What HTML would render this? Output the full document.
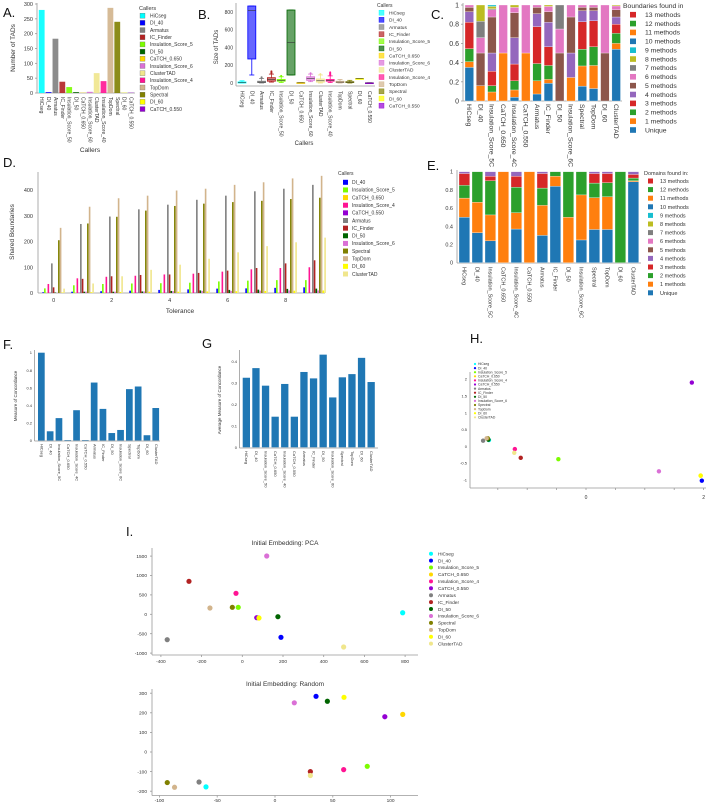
<!DOCTYPE html>
<html><head><meta charset="utf-8"><style>
html,body{margin:0;padding:0;background:#fff;}
svg{display:block;font-family:"Liberation Sans",sans-serif;}
</style></head><body>
<svg id="fig" width="708" height="803" viewBox="0 0 708 803" xmlns="http://www.w3.org/2000/svg"></svg>
<script>
// ---------- DATA ----------
const callerColor = {"HiCseg":"#00ffff","DI_40":"#0000ff","Armatus":"#808080","IC_Finder":"#b22222","Insulation_Score_5":"#7cfc00","DI_50":"#006400","CaTCH_0.650":"#ffd700","Insulation_Score_6":"#da70d6","ClusterTAD":"#f0e68c","Insulation_Score_4":"#ff1493","TopDom":"#d2b48c","Spectral":"#808000","DI_60":"#ffff00","CaTCH_0.550":"#9400d3"};
const aCats = ["HiCseg","DI_40","Armatus","IC_Finder","Insulation_Score_5","DI_50","CaTCH_0.650","Insulation_Score_6","ClusterTAD","Insulation_Score_4","TopDom","Spectral","DI_60","CaTCH_0.550"];
const aLabels = ["HiCseg","DI_40","Armatus","IC_Finder","Insulation_Score_50","DI_50","CaTCH_0.650","Insulation_Score_60","ClusterTAD","Insulation_Score_40","TopDom","Spectral","DI_60","CaTCH_0.550"];
const aVals = [280,3,183,38,20,3,1,4,67,40,287,240,1,1];
const aTicks = [0,50,100,150,200,250,300];
// box stats: [whislo,q1,med,q3,whishi]
const bStats = [[0,0,5,12,25],[90,270,815,865,865],[0,5,10,20,50],[10,20,40,60,100],[5,20,30,40,70],[90,90,455,820,820],[0,0,2,4,5],[15,30,50,70,100],[0,10,25,45,90],[5,20,30,40,80],[0,5,10,20,40],[0,5,10,15,30],[50,50,50,50,50],[0,0,1,2,3]];
const bFliers = [[],[],[55,65],[110,120,130],[80],[],[],[110],[100],[90,100,110,120],[],[],[],[]];
const bTicks = [0,200,400,600,800];
const cCats = ["HiCseg","DI_40","Insulation_Score_5C","CaTCH_0.650","Insulation_Score_4C","CaTCH_0.550","Armatus","IC_Finder","DI_50","Insulation_Score_6C","Spectral","TopDom","DI_60","ClusterTAD"];
const cSegs = [[0.35,0.06,0.135,0.275,0.11,0.045,0.025],[0,0.16,0,0,0,0.34,0.16,0.17,0.17],[0,0.094,0.066,0.15,0.19,0.375,0.075,0.01,0.025,0.015],[0,0.5,0,0,0,0,0.5],[0.04,0.075,0.095,0.175,0.275,0.26,0.055,0,0.025],[0,0.5,0,0,0,0,0.5],[0.073,0.137,0.18,0.385,0.135,0.065,0.025],[0.185,0.04,0.145,0.195,0.255,0.11,0.055,0,0.015],[0,0,0,0,0,0.5,0.25,0.25],[0,0.245,0,0,0.255,0.375,0.125],[0.155,0.21,0.175,0.285,0.115,0.035,0.025],[0.13,0.24,0.195,0.27,0.105,0.035,0.025],[0,0,0,0,0,0.5,0.5],[0.54,0.06,0.105,0.095,0.075,0.075,0.04,0,0.01]];
const eSegs = [[0.5,0.21,0.14,0.13,0.02],[0.33,0.335,0.335],[0.24,0.285,0.375,0.05,0.05],[0,1],[0.37,0.18,0.28,0.12,0.05],[0,1],[0.3,0.33,0.19,0.16,0.02],[0.84,0.11,0.05],[0,0.5,0.5],[0.25,0.495,0.255],[0.365,0.35,0.16,0.105,0.02],[0.365,0.36,0.155,0.1,0.02],[0,0,1],[0.89,0.01,0.03,0.04,0.03]];
const fracTicks = [0,0.2,0.4,0.6,0.8,1];
const methodLabels = ["13 methods","12 methods","11 methods","10 methods","9 methods","8 methods","7 methods","6 methods","5 methods","4 methods","3 methods","2 methods","1 methods","Unique"];
const dCallers = ["DI_40","Insulation_Score_5","CaTCH_0.650","Insulation_Score_4","CaTCH_0.550","Armatus","IC_Finder","DI_50","Insulation_Score_6","Spectral","TopDom","DI_60","ClusterTAD"];
const dVals = [[3,5,7,9,12,14,17,18,20,22],[18,30,35,37,38,40,45,48,50,50],[1,1,1,1,1,1,1,1,1,1],[35,57,63,67,72,75,83,92,97,100],[1,1,1,1,1,1,1,1,1,1],[115,268,297,325,343,362,378,395,405,420],[22,55,65,70,72,78,87,97,115,127],[2,5,5,6,8,10,12,13,16,17],[1,5,5,6,7,8,8,9,10,10],[205,270,296,320,338,347,353,358,365,370],[253,335,368,378,398,405,420,430,445,455],[2,3,4,5,5,6,7,8,9,10],[17,37,65,90,110,133,158,182,197,215]];
const dTols = [0,1,2,3,4,5,6,7,8,9];
const dTicks = [0,100,200,300,400];
const fVals = [1.0,0.105,0.255,0.005,0.345,0.005,0.66,0.36,0.085,0.12,0.585,0.615,0.06,0.37];
const gCats = ["HiCseg","DI_40","Insulation_Score_50","CaTCH_0.650","Insulation_Score_40","CaTCH_0.550","Armatus","IC_Finder","DI_50","Insulation_Score_60","Spectral","TopDom","DI_60","ClusterTAD"];
const gVals = [0.325,0.37,0.288,0.143,0.296,0.143,0.352,0.322,0.433,0.233,0.327,0.342,0.418,0.305];
const gTicks = [0,0.1,0.2,0.3,0.4];
const hCats = ["HiCseg","DI_40","Insulation_Score_5","CaTCH_0.650","Insulation_Score_4","CaTCH_0.550","Armatus","IC_Finder","DI_50","Insulation_Score_6","Spectral","TopDom","DI_60","ClusterTAD"];
const hX = [-1.65,1.97,-0.47,1.95,-1.21,1.80,-1.75,-1.11,-1.66,1.24,-1.67,-1.69,1.95,-1.22];
const hY = [0.19,-1.02,-0.38,-0.87,-0.08,1.9,0.17,-0.34,0.2,-0.74,0.24,0.24,-0.87,-0.19];
const hXTicks = [-1.5,-1,-0.5,0,0.5,1,1.5,2];
const hYTicks = [-1,-0.5,0,0.5,1,1.5,2];
const pcaX = [788,190,-20,80,-31,71,-369,-262,175,120,-49,-159,82,498];
const pcaY = [40,-593,180,-90,541,-87,-654,850,-62,1503,180,162,-95,-843];
const pcaXTicks = [-400,-200,0,200,400,600,800];
const pcaYTicks = [-1000,-500,0,500,1000,1500];
const rndX = [-59.7,35.5,79.8,110.5,59.4,95,-65.7,30.6,45.3,16.7,-93.2,-86.9,59.7,30.6];
const rndY = [-178,284,-73,192,-90,180,-153,-100,259,251,-156,-180,279,-120];
const rndXTicks = [-100,-50,0,50,100];
const rndYTicks = [-200,-100,0,100,200,300];
const tab10 = ['#1f77b4','#ff7f0e','#2ca02c','#d62728','#9467bd','#8c564b','#e377c2','#7f7f7f','#bcbd22','#17becf'];

// ---------- HELPERS ----------
const svg = document.getElementById('fig');
const NS = 'http://www.w3.org/2000/svg';
function mk(tag, attrs, name, parent) {
  const el = document.createElementNS(NS, tag);
  for (const k in attrs) el.setAttribute(k, attrs[k]);
  
  
  (parent || svg).appendChild(el);
  return el;
}
function txt(x, y, s, size, name, opts) {
  opts = opts || {};
  const a = {x: x, y: y, 'font-size': size, fill: opts.fill || '#333', 'text-anchor': opts.anchor || 'start'};
  if (opts.rot !== undefined) a.transform = 'rotate(' + opts.rot + ' ' + x + ' ' + y + ')';
  if (opts.base) a['dominant-baseline'] = opts.base;
  const t = mk('text', a, name);
  t.textContent = s;
  return t;
}
function line(x1, y1, x2, y2, name, col, w) {
  return mk('line', {x1: x1, y1: y1, x2: x2, y2: y2, stroke: col || '#999', 'stroke-width': w || 0.8}, name);
}
function panelLabel(x, y, s) { txt(x, y, s, 13, 'panel-label-' + s.replace('.', '').toLowerCase(), {fill: '#111'}); }

// ---------- PANEL A ----------
panelLabel(3, 17, 'A.');
const aY = v => 93 - v * (89 / 300);
const aX = i => 41.7 + i * 6.87;
line(37, 3, 37, 93, 'a-y-axis');
line(37, 93, 135, 93, 'a-x-axis');
aTicks.forEach(t => { txt(33, aY(t) + 2, String(t), 5.5, 'a-y-tick', {anchor: 'end'}); line(35, aY(t), 37, aY(t), 'a-y-tick-mark'); });
aVals.forEach((v, i) => { mk('rect', {x: aX(i) - 2.9, y: aY(v), width: 5.8, height: 93 - aY(v), fill: callerColor[aCats[i]], 'fill-opacity': 0.9}, 'a-bar-' + aCats[i].toLowerCase()); });
aLabels.forEach((s, i) => txt(aX(i) - 1.5, 97, s, 5, 'a-x-label', {rot: 90}));
txt(15, 48, 'Number of TADs', 6.5, 'a-y-axis-title', {rot: -90, anchor: 'middle'});
txt(90, 152, 'Callers', 6.5, 'a-x-axis-title', {anchor: 'middle'});
txt(139, 10, 'Callers', 5.5, 'a-legend-title');
aCats.forEach((c, i) => { const y = 15.7 + i * 7.18; mk('rect', {x: 140, y: y - 2.5, width: 5, height: 5, fill: callerColor[c], stroke: '#666', 'stroke-width': 0.3}, 'a-legend-swatch'); txt(150, y + 1.8, c, 5, 'a-legend-entry'); });

// ---------- PANEL B ----------
panelLabel(198, 19, 'B.');
const bY = v => 83 - v * (17.8 / 200);
const bX = i => 242 + i * 9.8;
line(236, 3, 236, 86, 'b-y-axis');
line(236, 86, 375, 86, 'b-x-axis');
bTicks.forEach(t => { txt(233, bY(t) + 2, String(t), 5, 'b-y-tick', {anchor: 'end'}); });
bStats.forEach((s, i) => {
  const col = callerColor[aCats[i]], x = bX(i);
  line(x, bY(s[0]), x, bY(s[1]), 'b-whisker-low', col, 0.8);
  line(x, bY(s[3]), x, bY(s[4]), 'b-whisker-high', col, 0.8);
  line(x - 2.5, bY(s[0]), x + 2.5, bY(s[0]), 'b-cap-low', col, 0.8);
  line(x - 2.5, bY(s[4]), x + 2.5, bY(s[4]), 'b-cap-high', col, 0.8);
  mk('rect', {x: x - 4, y: bY(s[3]), width: 8, height: Math.max(0.8, bY(s[1]) - bY(s[3])), fill: col, 'fill-opacity': 0.6, stroke: col, 'stroke-width': 0.8}, 'b-box-' + aCats[i].toLowerCase());
  line(x - 4, bY(s[2]), x + 4, bY(s[2]), 'b-median', '#333', 0.6);
  bFliers[i].forEach(f => mk('circle', {cx: x, cy: bY(f), r: 1, fill: col}, 'b-flier'));
});
aLabels.forEach((s, i) => txt(bX(i) - 1.5, 91, s, 5, 'b-x-label', {rot: 90}));
txt(218, 47, 'Size of TADs', 6, 'b-y-axis-title', {rot: -90, anchor: 'middle'});
txt(304, 145, 'Callers', 6, 'b-x-axis-title', {anchor: 'middle'});
txt(377, 7, 'Callers', 5, 'b-legend-title');
aCats.forEach((c, i) => { const y = 12.7 + i * 7.15; mk('rect', {x: 379, y: y - 2.5, width: 5, height: 5, fill: callerColor[c], 'fill-opacity': 0.7, stroke: callerColor[c], 'stroke-width': 0.4}, 'b-legend-swatch'); txt(389, y + 1.8, c, 4.8, 'b-legend-entry'); });

// ---------- PANEL C ----------
panelLabel(431, 19, 'C.');
const cY = v => 101 - v * 96;
const cX = i => 465 + i * 11.3;
line(463, 3, 463, 101, 'c-y-axis');
line(463, 101, 622, 101, 'c-x-axis');
fracTicks.forEach(t => { txt(459, cY(t) + 2.5, String(t), 7, 'c-y-tick', {anchor: 'end'}); line(461, cY(t), 463, cY(t), 'c-y-tick-mark'); });
cSegs.forEach((segs, i) => { let acc = 0; segs.forEach((h, k) => { if (h > 0) { mk('rect', {x: cX(i), y: cY(acc + h), width: 8.6, height: h * 96, fill: tab10[k], stroke: '#fff', 'stroke-width': 0.3}, 'c-segment-' + cCats[i].toLowerCase()); } acc += h; }); });
cCats.forEach((s, i) => txt(cX(i) + 2, 104, s, 6.8, 'c-x-label', {rot: 90}));
txt(623, 8, 'Boundaries found in', 6.8, 'c-legend-title');
methodLabels.forEach((s, i) => { const y = 14.7 + i * 8.87; mk('rect', {x: 630, y: y - 2.8, width: 6, height: 5.6, fill: tab10[(13 - i) % 10]}, 'c-legend-swatch'); txt(645, y + 2.3, s, 6.8, 'c-legend-entry'); });

// ---------- PANEL D ----------
panelLabel(3, 167, 'D.');
const dY = v => 293 - v * 0.2575;
const dX = (k, j) => 42.3 + k * 29 + j * 1.75;
line(38, 172, 38, 293, 'd-y-axis');
line(38, 293, 325, 293, 'd-x-axis');
dTicks.forEach(t => { txt(33, dY(t) + 2, String(t), 5.5, 'd-y-tick', {anchor: 'end'}); });
dTols.forEach(k => { dCallers.forEach((c, j) => { const v = dVals[j][k]; mk('rect', {x: dX(k, j), y: dY(v), width: 1.6, height: 293 - dY(v), fill: callerColor[c]}, 'd-bar-' + c.toLowerCase()); }); });
[0, 2, 4, 6, 8].forEach(t => txt(53.6 + 29 * t, 302, String(t), 5.5, 'd-x-tick', {anchor: 'middle'}));
txt(14, 232, 'Shared Boundaries', 6.5, 'd-y-axis-title', {rot: -90, anchor: 'middle'});
txt(180, 313, 'Tolerance', 6.5, 'd-x-axis-title', {anchor: 'middle'});
txt(338, 175, 'Callers', 5, 'd-legend-title');
dCallers.forEach((c, i) => { const y = 182.3 + i * 7.64; mk('rect', {x: 343, y: y - 2.5, width: 5, height: 5, fill: callerColor[c]}, 'd-legend-swatch'); txt(352, y + 1.8, c, 5, 'd-legend-entry'); });

// ---------- PANEL E ----------
panelLabel(427, 170, 'E.');
const eY = v => 262.7 - v * 91;
const eX = i => 459 + i * 13;
line(457, 170, 457, 263, 'e-y-axis');
line(457, 263, 641, 263, 'e-x-axis');
fracTicks.forEach(t => { txt(453, eY(t) + 2, String(t), 5.5, 'e-y-tick', {anchor: 'end'}); });
eSegs.forEach((segs, i) => { let acc = 0; segs.forEach((h, k) => { if (h > 0) { mk('rect', {x: eX(i), y: eY(acc + h), width: 10.7, height: h * 91, fill: tab10[k], stroke: '#fff', 'stroke-width': 0.3}, 'e-segment-' + cCats[i].toLowerCase()); } acc += h; }); });
cCats.forEach((s, i) => txt(eX(i) + 3.5, 267, s, 5.5, 'e-x-label', {rot: 90}));
txt(644, 175, 'Domains found in:', 5.5, 'e-legend-title');
methodLabels.forEach((s, i) => { const y = 181 + i * 8.6; mk('rect', {x: 648, y: y - 2.5, width: 5, height: 5, fill: tab10[(13 - i) % 10]}, 'e-legend-swatch'); txt(660, y + 2, s, 5.5, 'e-legend-entry'); });

// ---------- PANEL F ----------
panelLabel(3, 349, 'F.');
const fY = v => 440.5 - v * 87.8;
const fX = i => 38 + i * 8.8;
line(34.5, 350, 34.5, 441, 'f-y-axis');
line(34.5, 441, 160, 441, 'f-x-axis');
fracTicks.forEach(t => { txt(32, fY(t) + 1.5, String(t), 4, 'f-y-tick', {anchor: 'end'}); });
fVals.forEach((v, i) => mk('rect', {x: fX(i), y: fY(v), width: 6.7, height: Math.max(0.5, 440.5 - fY(v)), fill: '#1f77b4'}, 'f-bar-' + cCats[i].toLowerCase()));
cCats.forEach((s, i) => txt(fX(i) + 2.5, 444, s, 4, 'f-x-label', {rot: 90}));
txt(17, 396, 'Measure of Concordance', 4.5, 'f-y-axis-title', {rot: -90, anchor: 'middle'});

// ---------- PANEL G ----------
panelLabel(202, 348, 'G');
const gY = v => 447.3 - v * 214;
const gX = i => 242.7 + i * 9.6;
line(239.5, 350, 239.5, 448, 'g-y-axis');
line(239.5, 448, 378, 448, 'g-x-axis');
gTicks.forEach(t => { txt(237, gY(t) + 1.5, String(t), 4, 'g-y-tick', {anchor: 'end'}); });
gVals.forEach((v, i) => mk('rect', {x: gX(i), y: gY(v), width: 7.3, height: 447.3 - gY(v), fill: '#1f77b4'}, 'g-bar-' + gCats[i].toLowerCase()));
gCats.forEach((s, i) => txt(gX(i) + 2.5, 451, s, 4, 'g-x-label', {rot: 90}));
txt(221, 400, 'Average Measure of Concordance', 4.5, 'g-y-axis-title', {rot: -90, anchor: 'middle'});

// ---------- PANEL H ----------
panelLabel(470, 343, 'H.');
const hPX = v => 586 + v * 58.8;
const hPY = v => 446.4 - v * 33.6;
line(470, 372, 470, 488, 'h-y-axis');
line(470, 488, 706, 488, 'h-x-axis');
hYTicks.forEach(t => { txt(467, hPY(t) + 1.5, String(t), 4, 'h-y-tick', {anchor: 'end'}); });
hXTicks.forEach(t => { line(hPX(t), 488, hPX(t), 490, 'h-x-tick-mark'); });
txt(hPX(0), 499, '0', 5, 'h-x-tick', {anchor: 'middle'});
txt(hPX(2), 499, '2', 5, 'h-x-tick', {anchor: 'middle'});
hCats.forEach((c, i) => mk('circle', {cx: hPX(hX[i]), cy: hPY(hY[i]), r: 2.2, fill: callerColor[c]}, 'h-point-' + c.toLowerCase()));
hCats.forEach((c, i) => { const y = 364 + i * 4.1; mk('circle', {cx: 475, cy: y, r: 1.1, fill: callerColor[c]}, 'h-legend-marker'); txt(478, y + 1.2, c, 3.4, 'h-legend-entry'); });

// ---------- PANEL I (PCA) ----------
panelLabel(126, 536, 'I.');
const pX = v => 242.3 + v * 0.2035;
const pY = v => 614.3 - v * 0.0388;
line(152, 548, 152, 655, 'pca-y-axis');
line(152, 655, 418, 655, 'pca-x-axis');
pcaYTicks.forEach(t => { txt(147, pY(t) + 1.7, String(t), 4.8, 'pca-y-tick', {anchor: 'end'}); line(150, pY(t), 152, pY(t), 'pca-y-tick-mark'); });
pcaXTicks.forEach(t => { txt(pX(t), 663, String(t), 4.8, 'pca-x-tick', {anchor: 'middle'}); line(pX(t), 655, pX(t), 657, 'pca-x-tick-mark'); });
txt(285, 545, 'Initial Embedding: PCA', 6.5, 'pca-title', {anchor: 'middle'});
hCats.forEach((c, i) => mk('circle', {cx: pX(pcaX[i]), cy: pY(pcaY[i]), r: 2.6, fill: callerColor[c]}, 'pca-point-' + c.toLowerCase()));
hCats.forEach((c, i) => { const y = 553.7 + i * 6.92; mk('circle', {cx: 431, cy: y, r: 2, fill: callerColor[c]}, 'pca-legend-marker'); txt(438, y + 1.7, c, 4.8, 'pca-legend-entry'); });

// ---------- PANEL I (Random) ----------
const rX = v => 275 + v * 1.156;
const rY = v => 752 - v * 0.196;
line(152, 689, 152, 795.5, 'rnd-y-axis');
line(152, 795.5, 418, 795.5, 'rnd-x-axis');
rndYTicks.forEach(t => { txt(147, rY(t) + 1.7, String(t), 4.8, 'rnd-y-tick', {anchor: 'end'}); line(150, rY(t), 152, rY(t), 'rnd-y-tick-mark'); });
rndXTicks.forEach(t => { txt(rX(t), 802, String(t), 4.8, 'rnd-x-tick', {anchor: 'middle'}); line(rX(t), 795.5, rX(t), 797.5, 'rnd-x-tick-mark'); });
txt(285, 686, 'Initial Embedding: Random', 6.5, 'rnd-title', {anchor: 'middle'});
hCats.forEach((c, i) => mk('circle', {cx: rX(rndX[i]), cy: rY(rndY[i]), r: 2.6, fill: callerColor[c]}, 'rnd-point-' + c.toLowerCase()));
</script>
</body></html>
